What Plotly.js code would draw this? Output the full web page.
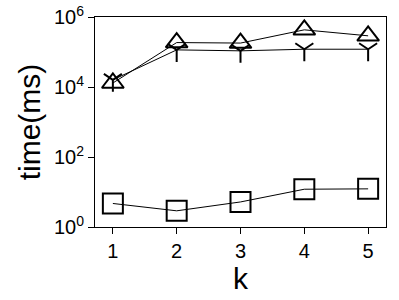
<!DOCTYPE html>
<html>
<head>
<meta charset="utf-8">
<script src="https://cdn.plot.ly/plotly-3.0.1.min.js"></script>
<style>html,body{margin:0;padding:0;background:#fff;} #chart{width:399px;height:300px;}</style>
</head>
<body>
<div id="chart"></div>
<script>
const kValues = [1, 2, 3, 4, 5];
const seriesTriangle = [13000, 186000, 180000, 430000, 290000];
const seriesY = [16000, 115000, 108000, 120000, 120000];
const seriesSquare = [4.7, 2.9, 5.2, 12, 12.3];
const yTickVals = [1, 100, 10000, 1000000];
const yTickText = ['10<sup>0</sup>', '10<sup>2</sup>', '10<sup>4</sup>', '10<sup>6</sup>'];

const lineStyle = {color: '#000', width: 1};
const traces = [
  {x: kValues, y: seriesTriangle, mode: 'lines+markers', line: lineStyle,
   marker: {symbol: 'triangle-up-open', size: 19, color: '#000', line: {color: '#000', width: 2}}},
  {x: kValues, y: seriesY, mode: 'lines+markers', line: lineStyle,
   marker: {symbol: 'y-down-open', size: 15, color: '#000', line: {color: '#000', width: 2}}},
  {x: kValues, y: seriesSquare, mode: 'lines+markers', line: lineStyle,
   marker: {symbol: 'square-open', size: 20, color: '#000', line: {color: '#000', width: 2}}}
];

const layout = {
  width: 399, height: 300,
  margin: {l: 95, r: 13, t: 17, b: 73},
  showlegend: false,
  paper_bgcolor: '#fff', plot_bgcolor: '#fff',
  font: {family: 'Liberation Sans, Arial, sans-serif', color: '#000', size: 20},
  xaxis: {
    range: [0.72, 5.28], tickvals: kValues, ticktext: kValues.map(String),
    ticks: 'outside', ticklen: 6, tickwidth: 1, tickcolor: '#000',
    showline: true, linecolor: '#000', linewidth: 1, mirror: true,
    showgrid: false, zeroline: false,
    tickfont: {size: 20},
    title: {text: 'k', font: {size: 30}, standoff: 6}
  },
  yaxis: {
    type: 'log', range: [0, 6], tickvals: yTickVals, ticktext: yTickText,
    ticks: 'outside', ticklen: 6, tickwidth: 1, tickcolor: '#000',
    showline: true, linecolor: '#000', linewidth: 1, mirror: true,
    showgrid: false, zeroline: false,
    tickfont: {size: 20},
    title: {text: 'time(ms)', font: {size: 30}, standoff: 4}
  }
};
Plotly.newPlot('chart', traces, layout, {displayModeBar: false, staticPlot: true});
</script>
</body>
</html>
